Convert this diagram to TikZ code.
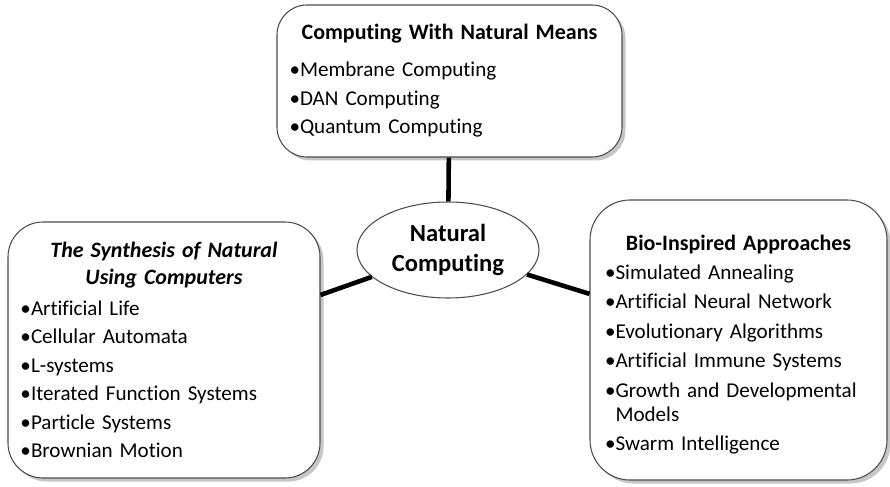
\documentclass[tikz,border=0pt]{standalone}
\usepackage{fontspec}
\setmainfont[Ligatures=NoCommon]{Carlito}
\usetikzlibrary{shapes.geometric, shadows}
\newcommand{\bitem}[2][2.6pt]{\par\vspace{#1}\setbox0\hbox{\textbullet}\hangindent=\wd0\hangafter=1\noindent\box0 #2}

\begin{document}
\begin{tikzpicture}[
        box/.style={draw=black!70, line width=0.6pt, rounded corners=0.6cm, fill=white, align=left, inner xsep=0.25cm,
            font=\fontsize{12}{13.6}\selectfont, drop shadow={shadow xshift=0.07cm, shadow yshift=-0.07cm, opacity=0.45}},
        link/.style={line width=2.6pt}]
        \useasboundingbox (0,0) rectangle (17.8,9.72);
        \draw (8.99,8.10) node[box, minimum width=6.9cm, minimum height=3.04cm, text width=6.4cm] (means)
            {{\centering\fontsize{12.5}{13.6}\selectfont\bfseries Computing With Natural Means\par}\vspace{4.8pt}
             \bitem{Membrane Computing}\bitem{DAN Computing}\bitem{Quantum Computing}};
        \draw (3.28,2.72) node[box, rounded corners=0.7cm, minimum width=6.24cm, minimum height=5.12cm, text width=5.74cm] (synth)
            {{\centering\fontsize{12.5}{15.3}\selectfont\bfseries\itshape The Synthesis of Natural\\ Using Computers\par}\vspace{1.4pt}
             \bitem{Artificial Life}\bitem{Cellular Automata}\bitem{L-systems}\bitem{Iterated Function Systems}
             \bitem{Particle Systems}\bitem{Brownian Motion}};
        \draw (14.77,2.92) node[box, rounded corners=0.8cm, minimum width=5.94cm, minimum height=5.6cm, text width=5.34cm] (bio)
            {{\centering\fontsize{12.5}{13.6}\selectfont\bfseries\rule{0pt}{14pt}Bio-Inspired Approaches\par}\vspace{-0.4pt}
             \bitem[3.2pt]{Simulated Annealing}\bitem[3.2pt]{Artificial Neural Network}\bitem[3.2pt]{Evolutionary Algorithms}
             \bitem[3.2pt]{Artificial Immune Systems}\bitem[3.2pt]{Growth and Developmental\newline Models}\bitem[3.2pt]{Swarm Intelligence}};
        \draw (8.96,4.72) node[ellipse, draw=black!70, line width=0.6pt, fill=white, minimum width=3.64cm, minimum height=1.92cm,
            align=center, font=\fontsize{14}{17.5}\selectfont\bfseries] (nc) {Natural\\Computing};
        \draw[link] (nc) -- (means);
        \draw[link] (nc) -- (synth);
        \draw[link] (nc) -- (bio);
    \end{tikzpicture}
\end{document}
